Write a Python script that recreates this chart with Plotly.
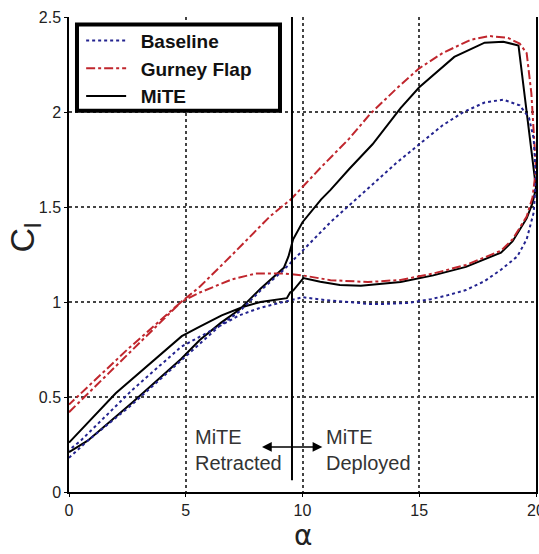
import plotly.graph_objects as go

# ---- data ----
baseline_alpha_up = [0, 0.8, 2.7, 4.8, 6.5, 7.3, 8.2, 9.2, 10.0, 11.2, 12.2, 13.0, 14.0, 15.0, 16.0, 16.9, 17.8, 18.6, 19.3, 19.7, 19.9, 20.0]
baseline_cl_up = [0.18, 0.27, 0.46, 0.69, 0.88, 0.95, 1.06, 1.17, 1.27, 1.42, 1.53, 1.62, 1.73, 1.83, 1.93, 2.00, 2.05, 2.065, 2.035, 1.97, 1.86, 1.65]
baseline_alpha_down = [20.0, 19.9, 19.6, 19.2, 18.5, 17.8, 17.0, 16.2, 15.5, 14.5, 13.5, 12.8, 12.0, 11.0, 10.0, 9.5, 8.2, 7.3, 6.1, 4.8, 2.7, 0.5, 0]
baseline_cl_down = [1.65, 1.47, 1.33, 1.24, 1.17, 1.11, 1.063, 1.035, 1.015, 0.995, 0.99, 0.99, 1.0, 1.01, 1.025, 1.01, 0.97, 0.93, 0.85, 0.764, 0.536, 0.27, 0.22]

gurney_alpha_up = [0, 1.0, 2.5, 4.8, 5.6, 7.0, 8.6, 9.5, 10.8, 12.0, 12.9, 14.0, 15.0, 16.0, 17.2, 18.0, 18.8, 19.3, 19.6, 19.8, 20.0]
gurney_cl_up = [0.42, 0.54, 0.72, 1.0, 1.08, 1.25, 1.45, 1.54, 1.71, 1.86, 1.99, 2.12, 2.23, 2.31, 2.38, 2.40, 2.39, 2.36, 2.31, 2.1, 1.7]
gurney_alpha_down = [20.0, 19.85, 19.6, 19.0, 18.5, 17.0, 15.6, 14.2, 12.8, 11.2, 10.0, 9.2, 8.0, 7.0, 5.6, 4.8, 2.5, 0]
gurney_cl_down = [1.7, 1.55, 1.45, 1.33, 1.27, 1.195, 1.15, 1.116, 1.105, 1.115, 1.14, 1.15, 1.15, 1.12, 1.05, 1.0, 0.75, 0.46]

mite_alpha_up = [0, 0.8, 2.7, 4.8, 5.6, 6.5, 7.3, 8.2, 9.2, 9.4, 9.6, 10.0, 10.8, 11.2, 12.0, 13.0, 14.2, 15.0, 16.5, 17.8, 18.6, 19.25, 20.0]
mite_cl_up = [0.21, 0.27, 0.47, 0.70, 0.80, 0.89, 0.96, 1.07, 1.18, 1.24, 1.33, 1.42, 1.54, 1.59, 1.70, 1.83, 2.02, 2.13, 2.29, 2.365, 2.37, 2.35, 1.6]
mite_alpha_down = [20.0, 19.85, 19.6, 19.0, 18.5, 17.0, 15.6, 14.2, 12.5, 11.6, 10.76, 10.04, 9.6, 9.47, 9.33, 8.2, 7.47, 6.54, 5.6, 4.83, 2.0, 0.1, 0]
mite_cl_down = [1.6, 1.52, 1.44, 1.32, 1.26, 1.185, 1.14, 1.105, 1.085, 1.09, 1.107, 1.126, 1.06, 1.05, 1.02, 1.0, 0.975, 0.93, 0.87, 0.82, 0.52, 0.27, 0.26]

x_ticks = [0, 5, 10, 15, 20]
y_ticks = [0, 0.5, 1, 1.5, 2, 2.5]
y_tick_labels = ["0", "0.5", "1", "1.5", "2", "2.5"]

deploy_alpha = 9.55
deploy_line_bottom = 0.062
arrow_left = 8.2
arrow_right = 10.85
arrow_cl = 0.237

fig = go.Figure()

fig.add_trace(go.Scatter(
    x=mite_alpha_up + mite_alpha_down, y=mite_cl_up + mite_cl_down,
    mode="lines", name="\u2002MiTE", legendrank=3,
    line=dict(color="black", width=2)))
fig.add_trace(go.Scatter(
    x=gurney_alpha_up + gurney_alpha_down, y=gurney_cl_up + gurney_cl_down,
    mode="lines", name="\u2002Gurney Flap", legendrank=2,
    line=dict(color="#c0262d", width=2, dash="dashdot")))
fig.add_trace(go.Scatter(
    x=baseline_alpha_up + baseline_alpha_down, y=baseline_cl_up + baseline_cl_down,
    mode="lines", name="\u2002Baseline", legendrank=1,
    line=dict(color="#23238f", width=2, dash="dot")))

# deployment line
fig.add_shape(type="line", xref="x", yref="y",
              x0=deploy_alpha, x1=deploy_alpha, y0=deploy_line_bottom, y1=2.5,
              line=dict(color="black", width=2))

# legend frame
fig.add_shape(type="rect", xref="paper", yref="paper",
              x0=0.0171, x1=0.4518, y0=0.8027, y1=0.9842,
              fillcolor="white", line=dict(color="black", width=4), layer="above")

# double arrow
fig.add_annotation(x=arrow_right, y=arrow_cl, ax=arrow_left, ay=arrow_cl,
                   xref="x", yref="y", axref="x", ayref="y",
                   text="", showarrow=True, arrowhead=2, startarrowhead=2,
                   arrowside="end+start", arrowsize=1.3, startarrowsize=1.3,
                   arrowwidth=1.5, arrowcolor="black")

fig.add_annotation(x=5.3, y=0.22, xref="x", yref="y", xanchor="left", yanchor="middle",
                   text="MiTE<br>Retracted", showarrow=False, align="left",
                   font=dict(family="Liberation Sans, Arial", size=20, color="#333"))
fig.add_annotation(x=10.93, y=0.22, xref="x", yref="y", xanchor="left", yanchor="middle",
                   text="MiTE<br>Deployed", showarrow=False, align="left",
                   font=dict(family="Liberation Sans, Arial", size=20, color="#333"))

# axis titles
fig.add_annotation(x=0.5, y=-0.092, xref="paper", yref="paper", yanchor="middle",
                   text="α", showarrow=False,
                   font=dict(family="DejaVu Sans", size=28, color="#222"))
fig.add_annotation(x=-0.095, y=0.535, xref="paper", yref="paper", xanchor="center",
                   text="C<sub>l</sub>", showarrow=False, textangle=-90,
                   font=dict(family="Liberation Sans, Arial", size=34, color="#222"))

axis_font = dict(family="Liberation Sans, Arial", size=16, color="#222")
fig.update_xaxes(range=[0, 20], tickvals=x_ticks, ticktext=[str(v) for v in x_ticks],
                 showline=True, linecolor="black", linewidth=1.5, mirror=False,
                 ticks="outside", ticklen=3, tickcolor="black", ticklabeloverflow="allow",
                 automargin=False,
                 showgrid=True, gridcolor="#444", griddash="dot", gridwidth=1.5,
                 zeroline=False, tickfont=axis_font)
fig.update_yaxes(range=[0, 2.5], tickvals=y_ticks, ticktext=y_tick_labels,
                 showline=True, linecolor="black", linewidth=1.5, mirror=True,
                 ticks="outside", ticklen=3, tickcolor="black", automargin=False,
                 showgrid=True, gridcolor="#444", griddash="dot", gridwidth=1.5,
                 zeroline=False, tickfont=axis_font)

fig.update_layout(
    width=539, height=554,
    margin=dict(l=69, r=3, t=17, b=62, autoexpand=False),
    plot_bgcolor="white", paper_bgcolor="white",
    showlegend=True,
    legend=dict(x=0.026, y=0.99, xanchor="left", yanchor="top",
                bgcolor="rgba(0,0,0,0)", borderwidth=0,
                font=dict(family="Liberation Sans, Arial", size=19, color="#111", weight="bold"),
                tracegroupgap=0, itemwidth=40),
)

fig.write_html("out.html")
